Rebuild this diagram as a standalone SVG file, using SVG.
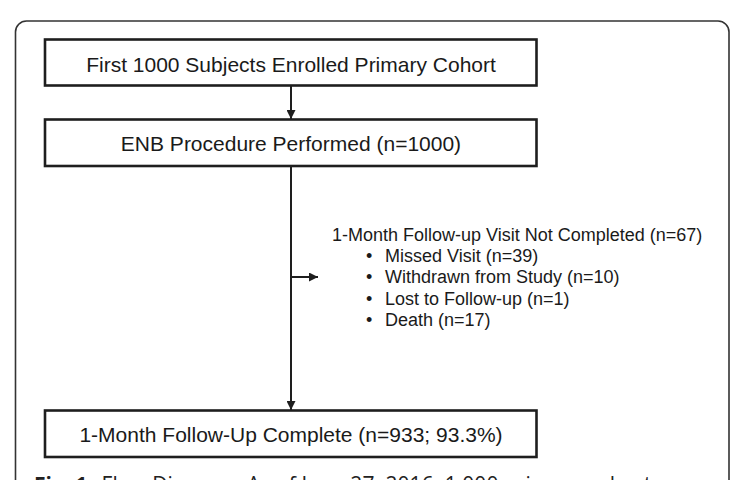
<svg xmlns="http://www.w3.org/2000/svg" width="748" height="480" viewBox="0 0 748 480">
<style>
.box{fill:#fff;stroke:#1e1e1e;stroke-width:2.6}
.bt{font-family:"Liberation Sans",Arial,sans-serif;font-size:21px;fill:#1a1a1a;text-anchor:middle}
.st{font-family:"Liberation Sans",Arial,sans-serif;font-size:18px;fill:#1a1a1a}
.ln{stroke:#1e1e1e;stroke-width:2;fill:none}
.cap{font-family:"Open Sans","Noto Sans",sans-serif;font-size:21px;fill:#222}
</style>
<defs>
<marker id="ah" viewBox="0 0 10 10" refX="10" refY="5" markerWidth="4.5" markerHeight="4.5" orient="auto" markerUnits="strokeWidth">
<path d="M0,0 L10,5 L0,10 z" fill="#1e1e1e"/>
</marker>
</defs>
<rect x="0" y="0" width="748" height="480" fill="#fff"/>
<rect id="frame" x="15.5" y="21" width="713.5" height="520" rx="11" ry="11" fill="none" stroke="#333" stroke-width="1.6"/>
<g id="connectors">
<line class="ln" x1="291" y1="86" x2="291" y2="119" marker-end="url(#ah)"/>
<line class="ln" x1="291" y1="166" x2="291" y2="410" marker-end="url(#ah)"/>
<line class="ln" x1="291" y1="277" x2="318" y2="277" marker-end="url(#ah)"/>
</g>
<g id="n1">
<rect class="box" x="45" y="39.5" width="491.5" height="46"/>
<text class="bt" x="291" y="71.5">First 1000 Subjects Enrolled Primary Cohort</text>
</g>
<g id="n2">
<rect class="box" x="45" y="119.5" width="491.5" height="46.5"/>
<text class="bt" x="291" y="150.5">ENB Procedure Performed (n=1000)</text>
</g>
<g id="n3">
<text class="st" x="332" y="240.5">1-Month Follow-up Visit Not Completed (n=67)</text>
<text class="st" x="366" y="261.5">•</text>
<text class="st" x="385" y="261.5">Missed Visit (n=39)</text>
<text class="st" x="366" y="283">•</text>
<text class="st" x="385" y="283">Withdrawn from Study (n=10)</text>
<text class="st" x="366" y="304.5">•</text>
<text class="st" x="385" y="304.5">Lost to Follow-up (n=1)</text>
<text class="st" x="366" y="326">•</text>
<text class="st" x="385" y="326">Death (n=17)</text>
</g>
<g id="n4">
<rect class="box" x="45" y="410.5" width="491.5" height="46.5"/>
<text class="bt" x="291" y="441.5">1-Month Follow-Up Complete (n=933; 93.3%)</text>
</g>
<text class="cap" x="34" y="492" font-weight="bold">Fig. 1</text>
<text class="cap" x="101.5" y="492" textLength="550" lengthAdjust="spacing">Flow Diagram. As of June 27, 2016, 1,000 primary cohort</text>
</svg>
